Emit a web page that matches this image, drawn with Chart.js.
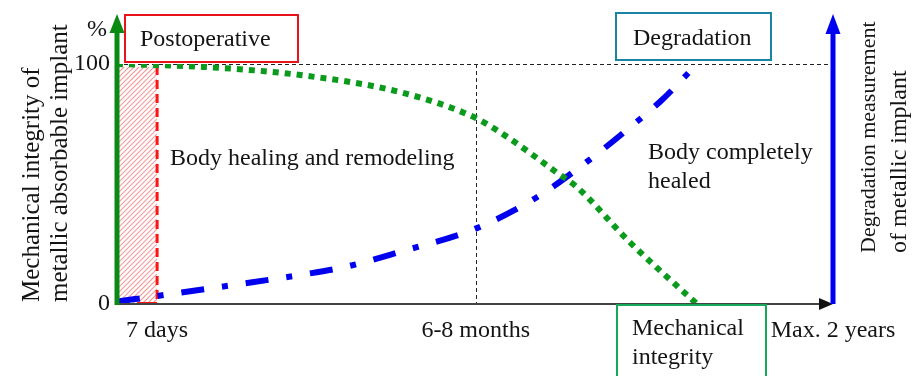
<!DOCTYPE html>
<html><head><meta charset="utf-8">
<script src="https://cdn.jsdelivr.net/npm/chart.js@4"></script>
<style>html,body{margin:0;padding:0;background:#fff;overflow:hidden}</style>
</head><body>
<canvas id="c" width="913" height="376" style="width:913px;height:376px;display:block"></canvas>
<script>
// ---- data (x in relative time units 0..100, y in %) ----
const timeAxisValues = [5.6, 50.1, 100];
const timeAxisLabels = ['7 days', '6-8 months', 'Max. 2 years'];
const percentTickValues = [0, 100];
const percentTickLabels = ['0', '100'];
const integrityX = [0, 12, 25.6, 39.5, 50.1, 54.5, 61.5, 64.2, 71.6, 81];
const integrityY = [100, 98.8, 95.4, 88.3, 77.5, 69.6, 54.6, 48.8, 25.8, 0];
const degradationX = [0, 6.7, 16.2, 25.6, 31.8, 39.5, 50.0, 58.7, 66.3, 71.2, 76.1, 81];
const degradationY = [1, 3.8, 7.9, 12.1, 15.4, 21.7, 31.3, 44.6, 60.8, 72.5, 85, 100];
const postoperativeRange = [0, 5.6];
const healingBoundary = 50.1;

const SERIF = '"Liberation Serif", "Times New Roman", serif';
const TXT = '#141414';

const decor = {
  id: 'decor',
  beforeDatasetsDraw(chart) {
    const {ctx, scales: {x, y}} = chart;
    const x0 = x.getPixelForValue(postoperativeRange[0]);
    const x1 = x.getPixelForValue(postoperativeRange[1]);
    const yTop = y.getPixelForValue(100), yBot = y.getPixelForValue(0);
    // hatched postoperative band
    ctx.save();
    ctx.beginPath(); ctx.rect(x0, yTop + 3, x1 - x0, yBot - yTop - 3); ctx.clip();
    ctx.strokeStyle = '#f39a9a'; ctx.lineWidth = 1.2;
    ctx.beginPath();
    const h = yBot - yTop;
    for (let k = -h - 10; k < (x1 - x0) + 10; k += 5) {
      ctx.moveTo(x0 + k, yBot); ctx.lineTo(x0 + k + h, yTop);
    }
    ctx.stroke();
    ctx.restore();
    ctx.save();
    ctx.strokeStyle = '#ff1414'; ctx.lineWidth = 3; ctx.setLineDash([9, 5]);
    ctx.beginPath(); ctx.moveTo(x1, yTop + 2); ctx.lineTo(x1, yBot); ctx.stroke();
    ctx.setLineDash([]); ctx.lineWidth = 2;
    ctx.beginPath(); ctx.moveTo(x1 - 20, yBot - 1); ctx.lineTo(x1, yBot - 1); ctx.stroke();
    // dashed reference lines
    ctx.strokeStyle = '#222'; ctx.lineWidth = 1; ctx.setLineDash([4, 3]);
    ctx.beginPath(); ctx.moveTo(x0, yTop + 0.5); ctx.lineTo(x.getPixelForValue(100) - 3, yTop + 0.5); ctx.stroke();
    const xb = Math.round(x.getPixelForValue(healingBoundary)) + 0.5;
    ctx.beginPath(); ctx.moveTo(xb, yTop); ctx.lineTo(xb, yBot); ctx.stroke();
    ctx.restore();
  },
  afterDatasetsDraw(chart) {
    const {ctx, scales: {x, y}} = chart;
    const x0 = x.getPixelForValue(0), xR = x.getPixelForValue(100);
    const yBot = y.getPixelForValue(0);
    ctx.save();
    // x axis with arrow
    ctx.strokeStyle = '#444'; ctx.lineWidth = 2;
    ctx.beginPath(); ctx.moveTo(x0, yBot); ctx.lineTo(xR - 12, yBot); ctx.stroke();
    ctx.fillStyle = '#111';
    ctx.beginPath(); ctx.moveTo(xR - 14, yBot - 6); ctx.lineTo(xR, yBot); ctx.lineTo(xR - 14, yBot + 6); ctx.closePath(); ctx.fill();
    // green left axis
    ctx.strokeStyle = '#0b8a13'; ctx.fillStyle = '#0b8a13'; ctx.lineWidth = 5;
    ctx.beginPath(); ctx.moveTo(x0, yBot + 1); ctx.lineTo(x0, 30); ctx.stroke();
    ctx.beginPath(); ctx.moveTo(x0 - 7.5, 33); ctx.lineTo(x0, 14); ctx.lineTo(x0 + 7.5, 33); ctx.closePath(); ctx.fill();
    // blue right axis
    ctx.strokeStyle = '#0000f0'; ctx.fillStyle = '#0000f0';
    ctx.beginPath(); ctx.moveTo(xR, yBot); ctx.lineTo(xR, 30); ctx.stroke();
    ctx.beginPath(); ctx.moveTo(xR - 7.5, 34); ctx.lineTo(xR, 14); ctx.lineTo(xR + 7.5, 34); ctx.closePath(); ctx.fill();
    // boxes
    ctx.lineWidth = 2;
    ctx.strokeStyle = '#e8131b'; ctx.strokeRect(125, 15, 173, 47);
    ctx.strokeStyle = '#1a84a4'; ctx.strokeRect(616, 13, 155, 47);
    ctx.strokeStyle = '#16a85a'; ctx.strokeRect(617, 305, 149, 80);
    // texts
    ctx.fillStyle = TXT; ctx.textBaseline = 'alphabetic'; ctx.textAlign = 'left';
    ctx.font = '24px ' + SERIF;
    ctx.fillText('Postoperative', 140, 46);
    ctx.fillText('Degradation', 633, 45);
    ctx.fillText('Mechanical', 632, 335);
    ctx.fillText('integrity', 632, 364);
    ctx.fillText('Body healing and remodeling', 170, 165);
    ctx.fillText('Body completely', 648, 159);
    ctx.fillText('healed', 648, 188);
    ctx.textAlign = 'right';
    ctx.fillText('%', 107, 36);
    // rotated axis titles
    const rot = (txt, bx, by, size) => {
      ctx.save(); ctx.translate(bx, by); ctx.rotate(-Math.PI / 2);
      ctx.textAlign = 'left'; ctx.font = size + 'px ' + SERIF;
      ctx.fillText(txt, 0, 0); ctx.restore();
    };
    rot('Mechanical integrity of', 39, 302, 25);
    rot('metallic absorbable implant', 67, 302, 25);
    rot('Degradation measurement', 875, 253, 22);
    rot('of metallic implant', 906, 253, 24);
    ctx.restore();
  }
};

new Chart(document.getElementById('c'), {
  type: 'line',
  data: {
    datasets: [
      {
        label: 'Mechanical integrity',
        data: integrityX.map((v, i) => ({x: v, y: integrityY[i]})),
        borderColor: '#0a9a1c', borderWidth: 6, borderDash: [6, 6], borderCapStyle: 'butt',
        pointRadius: 0, cubicInterpolationMode: 'monotone', fill: false
      },
      {
        label: 'Degradation',
        data: degradationX.map((v, i) => ({x: v, y: degradationY[i]})),
        borderColor: '#0000ee', borderWidth: 6, borderDash: [23, 18, 6, 18], borderCapStyle: 'butt',
        pointRadius: 0, cubicInterpolationMode: 'monotone', fill: false
      }
    ]
  },
  options: {
    responsive: false, animation: false, devicePixelRatio: 1,
    layout: {padding: {top: 64, right: 80, left: 0, bottom: 0}},
    plugins: {legend: {display: false}, tooltip: {enabled: false}},
    scales: {
      x: {
        type: 'linear', min: 0, max: 100,
        afterBuildTicks: s => { s.ticks = timeAxisValues.map(v => ({value: v})); },
        afterFit: s => { s.height = 72; },
        grid: {display: false, drawTicks: false}, border: {display: false},
        ticks: {
          callback: (v, i) => timeAxisLabels[i], autoSkip: false, maxRotation: 0,
          font: {family: SERIF, size: 24}, color: TXT, padding: 12
        }
      },
      y: {
        type: 'linear', min: 0, max: 100,
        afterBuildTicks: s => { s.ticks = percentTickValues.map(v => ({value: v})); },
        afterFit: s => { s.width = 117; },
        grid: {display: false, drawTicks: false}, border: {display: false},
        ticks: {
          callback: (v, i) => percentTickLabels[i],
          font: {family: SERIF, size: 24}, color: TXT, padding: 7
        }
      }
    }
  },
  plugins: [decor]
});
</script>
</body></html>
